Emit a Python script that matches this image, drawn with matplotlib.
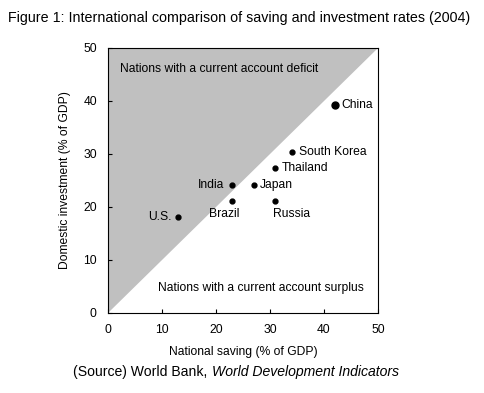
import numpy as np
import matplotlib.pyplot as plt

plt.rcParams['font.family'] = ['Liberation Sans', 'DejaVu Sans']

countries = ['China', 'South Korea', 'Thailand', 'India', 'Japan', 'Brazil', 'Russia', 'U.S.']
saving = [42, 34, 31, 23, 27, 23, 31, 13]
investment = [39.3, 30.3, 27.3, 24.2, 24.2, 21.2, 21.2, 18.2]
ticks = [0, 10, 20, 30, 40, 50]

# label offsets (points) and alignment
label_pos = {
    'China': ((4.5, 0), 'left', 'center'),
    'South Korea': ((5.5, 0), 'left', 'center'),
    'Thailand': ((4.5, 0), 'left', 'center'),
    'India': ((-5.5, 0), 'right', 'center'),
    'Japan': ((4.5, 0), 'left', 'center'),
    'Brazil': ((-5.5, -9.5), 'center', 'center'),
    'Russia': ((12, -9.5), 'center', 'center'),
    'U.S.': ((-4.5, 0), 'right', 'center'),
}

fs = 8.75

fig = plt.figure(figsize=(4.84, 3.93), dpi=100)
ax = fig.add_axes([0.2231, 0.2036, 0.5579, 0.6743])

ax.fill([0, 0, 50], [0, 50, 50], color='#c0c0c0', lw=0, zorder=0)

for i, c in enumerate(countries):
    ms = 5 if c == 'China' else 3.5
    ax.plot(saving[i], investment[i], 'o', color='black', markersize=ms, zorder=3)
    off, ha, va = label_pos[c]
    ax.annotate(c, (saving[i], investment[i]), xytext=off, textcoords='offset points',
                ha=ha, va=va, fontsize=fs)

ax.text(0.045, 0.92, 'Nations with a current account deficit', transform=ax.transAxes,
        fontsize=fs, ha='left', va='center')
ax.text(0.185, 0.095, 'Nations with a current account surplus', transform=ax.transAxes,
        fontsize=fs, ha='left', va='center')

ax.set_xlim(0, 50)
ax.set_ylim(0, 50)
ax.set_xticks(ticks)
ax.set_yticks(ticks)
ax.tick_params(direction='in', length=3, labelsize=fs, pad=8, width=0.8)
for s in ax.spines.values():
    s.set_linewidth(0.8)

ax.set_xlabel('National saving (% of GDP)', fontsize=fs, labelpad=7)
ax.set_ylabel('Domestic investment (% of GDP)', fontsize=fs, labelpad=9)

fig.text(0.017, 0.953, 'Figure 1: International comparison of saving and investment rates (2004)',
         fontsize=10.25, ha='left', va='center')
fig.text(0.437, 0.053, '(Source) World Bank, ', fontsize=10.1, ha='right', va='center')
fig.text(0.437, 0.053, 'World Development Indicators', fontsize=10.1, ha='left', va='center',
         style='italic')

fig.savefig('out.png', dpi=100)
